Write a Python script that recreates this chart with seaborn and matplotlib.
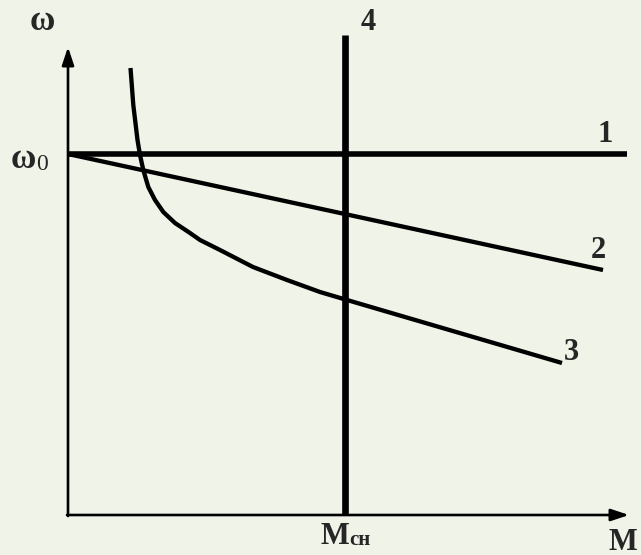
import matplotlib
matplotlib.use("Agg")
import matplotlib.pyplot as plt
import seaborn as sns
import pandas as pd

# data (M, omega) in chart units
omega0 = 361
line1_M = [0, 559]
line1_w = [361, 361]
line2_M = [0, 535]
line2_w = [361, 245]
line3_M = [62.5, 65.3, 69.5, 72, 75.3, 80.3, 87, 95.3, 107, 122, 132, 152, 185, 219, 252, 279, 494]
line3_w = [447, 410, 375, 360, 345, 328, 315, 303, 292, 282, 275, 265, 248, 235, 223, 215, 152]
Msn = 277
line4_w = [0, 480]
curve_labels = ["1", "2", "3", "4"]
label_pos_M = [537, 530, 503, 300]
label_pos_w = [380, 264, 162, 492]

sns.set_theme(style="white")
plt.rcParams['font.family'] = ['Liberation Serif', 'DejaVu Serif']
bg = "#F0F3E8"
fig = plt.figure(figsize=(6.41, 5.55), dpi=100, facecolor=bg)
ax = fig.add_axes([0, 0, 1, 1])
ax.set_facecolor(bg)
ax.set_xlim(-68, 573)
ax.set_ylim(-40, 515)
ax.axis("off")

df1 = pd.DataFrame({"M": line1_M, "w": line1_w})
df2 = pd.DataFrame({"M": line2_M, "w": line2_w})
df3 = pd.DataFrame({"M": line3_M, "w": line3_w})
df4 = pd.DataFrame({"M": [Msn, Msn], "w": line4_w})

kw = dict(ax=ax, color="black", sort=False, estimator=None, errorbar=None)
sns.lineplot(data=df1, x="M", y="w", lw=4.0, solid_capstyle="butt", **kw)
sns.lineplot(data=df2, x="M", y="w", lw=3.1, solid_capstyle="butt", **kw)
sns.lineplot(data=df3, x="M", y="w", lw=3.1, solid_capstyle="butt",
             solid_joinstyle="round", **kw)
sns.lineplot(data=df4, x="M", y="w", lw=4.8, solid_capstyle="butt", **kw)

# axes arrows
ax.annotate("", xy=(561, 0), xytext=(-1, 0),
            arrowprops=dict(arrowstyle="-|>,head_length=0.9,head_width=0.3",
                            color="black", lw=1.9, shrinkA=0, shrinkB=0))
ax.annotate("", xy=(0, 468), xytext=(0, -1),
            arrowprops=dict(arrowstyle="-|>,head_length=0.9,head_width=0.3",
                            color="black", lw=1.9, shrinkA=0, shrinkB=0))

fs = 22
for lab, mx, wy in zip(curve_labels, label_pos_M, label_pos_w):
    ax.text(mx, wy, lab, fontsize=fs, fontweight="bold", ha="center", va="center")

ax.text(-26, 493, "ω", fontsize=25, fontweight="bold", ha="center", va="center")
ax.text(-45, 355, "ω", fontsize=25, fontweight="bold", ha="center", va="center")
ax.text(-26, 350, "0", fontsize=17, fontweight="normal", ha="center", va="center")
ax.text(Msn - 10, -21, "M", fontsize=fs, fontweight="bold", ha="center", va="center")
ax.text(Msn + 15, -25, "сн", fontsize=15, fontweight="bold", ha="center", va="center")
ax.text(569, -27, "M", fontsize=fs, fontweight="bold", ha="right", va="center")

fig.savefig("out.png", dpi=100, facecolor=bg)
